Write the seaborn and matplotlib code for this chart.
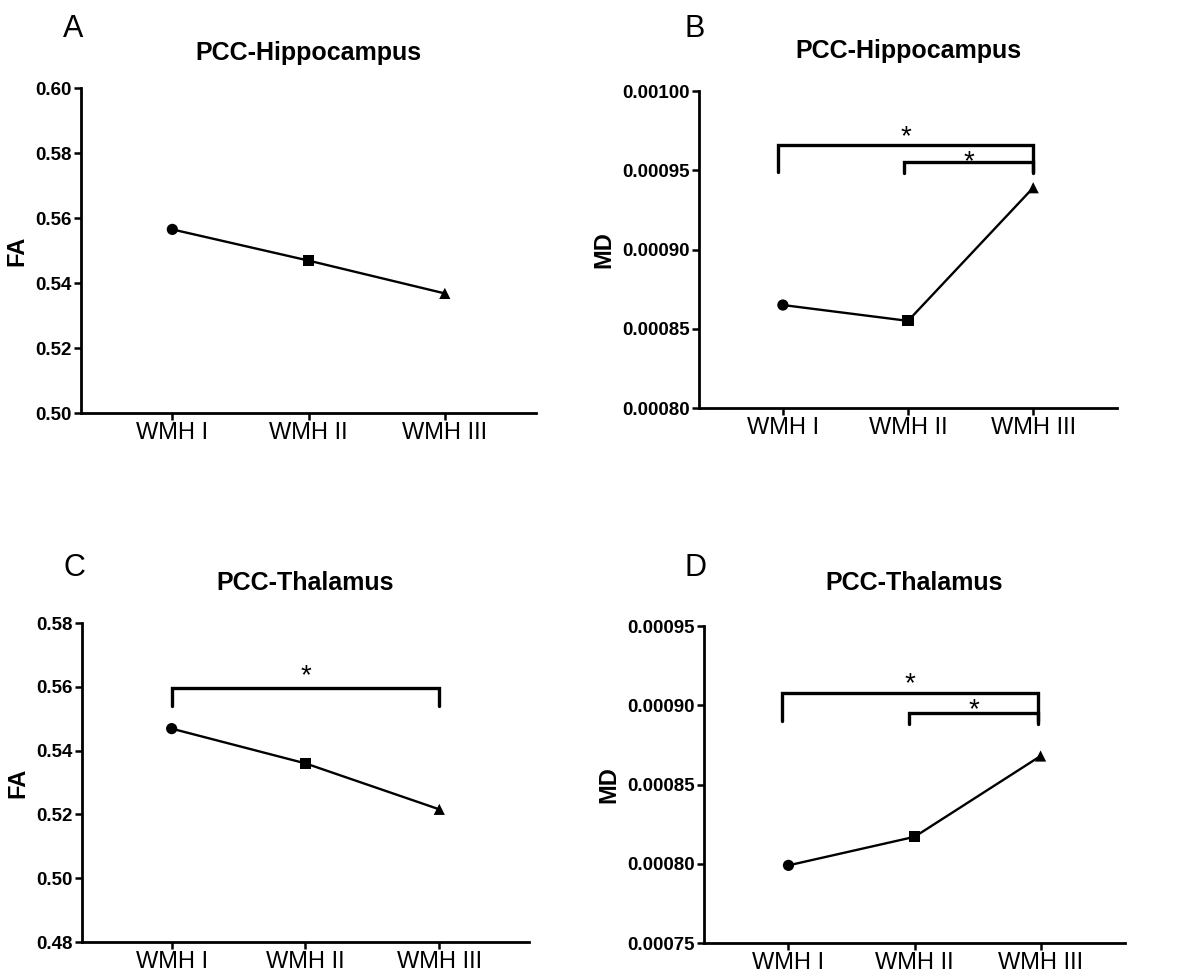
import matplotlib
matplotlib.use("Agg")
import matplotlib.pyplot as plt
import seaborn as sns
import pandas as pd


sns.set_style("ticks")
plt.rcParams['font.family'] = ['Liberation Sans', 'DejaVu Sans']
for key in ['text.color', 'axes.labelcolor', 'xtick.color', 'ytick.color', 'axes.edgecolor']:
    plt.rcParams[key] = 'black'

# groups on the x axis and the marker used for each one
groups = ["WMH I", "WMH II", "WMH III"]
group_markers = {"WMH I": "o", "WMH II": "s", "WMH III": "^"}

# mean values
fa_hippocampus = [0.5565, 0.5469, 0.5368]
md_hippocampus = [0.000865, 0.000855, 0.000939]
fa_thalamus = [0.5469, 0.5360, 0.5216]
md_thalamus = [0.000799, 0.000817, 0.000868]

# y ticks per panel
fa_hip_ticks = [0.50, 0.52, 0.54, 0.56, 0.58, 0.60]
md_hip_ticks = [0.00080, 0.00085, 0.00090, 0.00095, 0.00100]
fa_tha_ticks = [0.48, 0.50, 0.52, 0.54, 0.56, 0.58]
md_tha_ticks = [0.00075, 0.00080, 0.00085, 0.00090, 0.00095]

# significance brackets: (x start, x end, bar y, leg bottom y, star y)
brackets_b = [(-0.04, 2.0, 0.000966, 0.000949, 0.000975),
              (0.97, 2.0, 0.000955, 0.000948, 0.000959)]
brackets_c = [(0.0, 2.0, 0.5597, 0.5541, 0.5653)]
brackets_d = [(-0.05, 1.98, 0.000908, 0.000890, 0.000917),
              (0.96, 1.98, 0.000895, 0.000888, 0.000901)]


def draw_panel(ax, values, ticks, fmt, title, ylabel, brackets, pad):
    df = pd.DataFrame({"group": groups, "pos": [0, 1, 2], "value": values})
    sns.lineplot(data=df, x="pos", y="value", color="black", lw=1.7, ax=ax)
    sns.scatterplot(data=df, x="pos", y="value", style="group", markers=group_markers,
                    color="black", s=65, linewidth=0, legend=False, ax=ax, zorder=3)

    ax.set_xlim(-0.67, 2.67)
    ax.set_ylim(ticks[0], ticks[-1])
    ax.set_xticks([0, 1, 2])
    ax.set_xticklabels(groups, fontsize=17)
    ax.set_yticks(ticks)
    ax.set_yticklabels([fmt.format(t) for t in ticks], fontsize=13.5, fontweight="bold")
    ax.tick_params(direction="out", length=5, width=1.8, pad=1.5)
    ax.set_xlabel("")
    ax.set_ylabel(ylabel, fontsize=17, fontweight="bold", labelpad=5)
    ax.set_title(title, fontsize=18, fontweight="bold", pad=pad)
    for side in ["left", "bottom"]:
        ax.spines[side].set_linewidth(2)
    sns.despine(ax=ax)

    for x0, x1, bar, leg, star in brackets:
        ax.plot([x0, x0, x1, x1], [leg, bar, bar, leg], color="black", lw=2.4,
                solid_joinstyle="miter", clip_on=False)
        # the asterisk glyph sits high in its box, so nudge it down a little
        ax.annotate("*", xy=((x0 + x1) / 2, star), xytext=(0, -4.5),
                    textcoords="offset points", ha="center", va="center", fontsize=20)


fig = plt.figure(figsize=(11.9, 9.75), dpi=100)
ax_a = fig.add_axes([0.0681, 0.5764, 0.3824, 0.3333])
ax_b = fig.add_axes([0.5874, 0.5815, 0.3513, 0.3251])
ax_c = fig.add_axes([0.0689, 0.0338, 0.3756, 0.3272])
ax_d = fig.add_axes([0.5916, 0.0328, 0.3538, 0.3251])

draw_panel(ax_a, fa_hippocampus, fa_hip_ticks, "{:.2f}", "PCC-Hippocampus", "FA", [], 20)
draw_panel(ax_b, md_hippocampus, md_hip_ticks, "{:.5f}", "PCC-Hippocampus", "MD", brackets_b, 24)
draw_panel(ax_c, fa_thalamus, fa_tha_ticks, "{:.2f}", "PCC-Thalamus", "FA", brackets_c, 24)
draw_panel(ax_d, md_thalamus, md_tha_ticks, "{:.5f}", "PCC-Thalamus", "MD", brackets_d, 26)

# panel letters
for letter, x, y in [("A", 0.053, 0.962), ("B", 0.5756, 0.962),
                     ("C", 0.053, 0.409), ("D", 0.5756, 0.409)]:
    fig.text(x, y, letter, fontsize=22, va="baseline", ha="left")

fig.savefig("out.png", dpi=100)
